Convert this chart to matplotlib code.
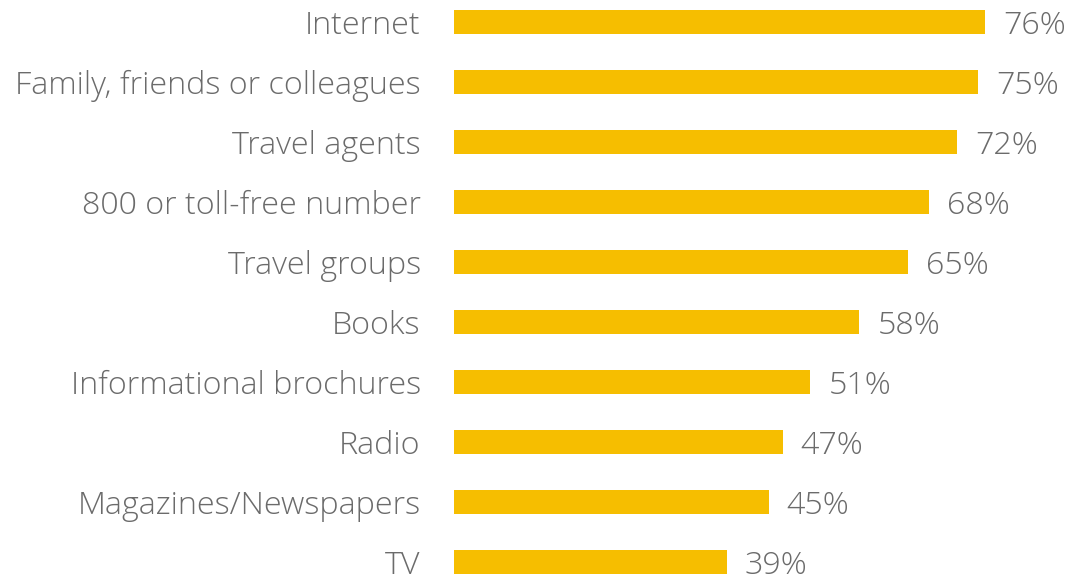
import matplotlib.pyplot as plt

# sources d'information et part des repondants (%)
sources = ["Internet", "Family, friends or colleagues", "Travel agents",
           "800 or toll-free number", "Travel groups", "Books",
           "Informational brochures", "Radio", "Magazines/Newspapers", "TV"]
pourcentages = [76, 75, 72, 68, 65, 58, 51, 47, 45, 39]

couleur_barre = "#F6BE00"
couleur_texte = "#6b6b6b"
police = ["Open Sans", "DejaVu Sans"]

fig = plt.figure(figsize=(10.8, 5.74), dpi=100)
ax = fig.add_axes([454 / 1080, 0, 626 / 1080, 1])

positions = list(range(len(sources)))
ax.barh(positions, pourcentages, height=0.4, color=couleur_barre)

ax.set_xlim(0, 626 / 6.99)
ax.set_ylim(574 / 60 - 22 / 60, -22 / 60)

for y, nom in zip(positions, sources):
    ax.annotate(nom, xy=(0, y), xytext=(-24, -3), textcoords="offset points",
                ha="right", va="center", fontsize=23.2, color=couleur_texte,
                family=police, fontweight="light", annotation_clip=False)

for y, v in zip(positions, pourcentages):
    ax.annotate(f"{v}%", xy=(v, y), xytext=(13, -3), textcoords="offset points",
                ha="left", va="center", fontsize=23.2, color=couleur_texte,
                family=police, fontweight="light", annotation_clip=False)

ax.axis("off")
fig.savefig("out.png", dpi=100)
